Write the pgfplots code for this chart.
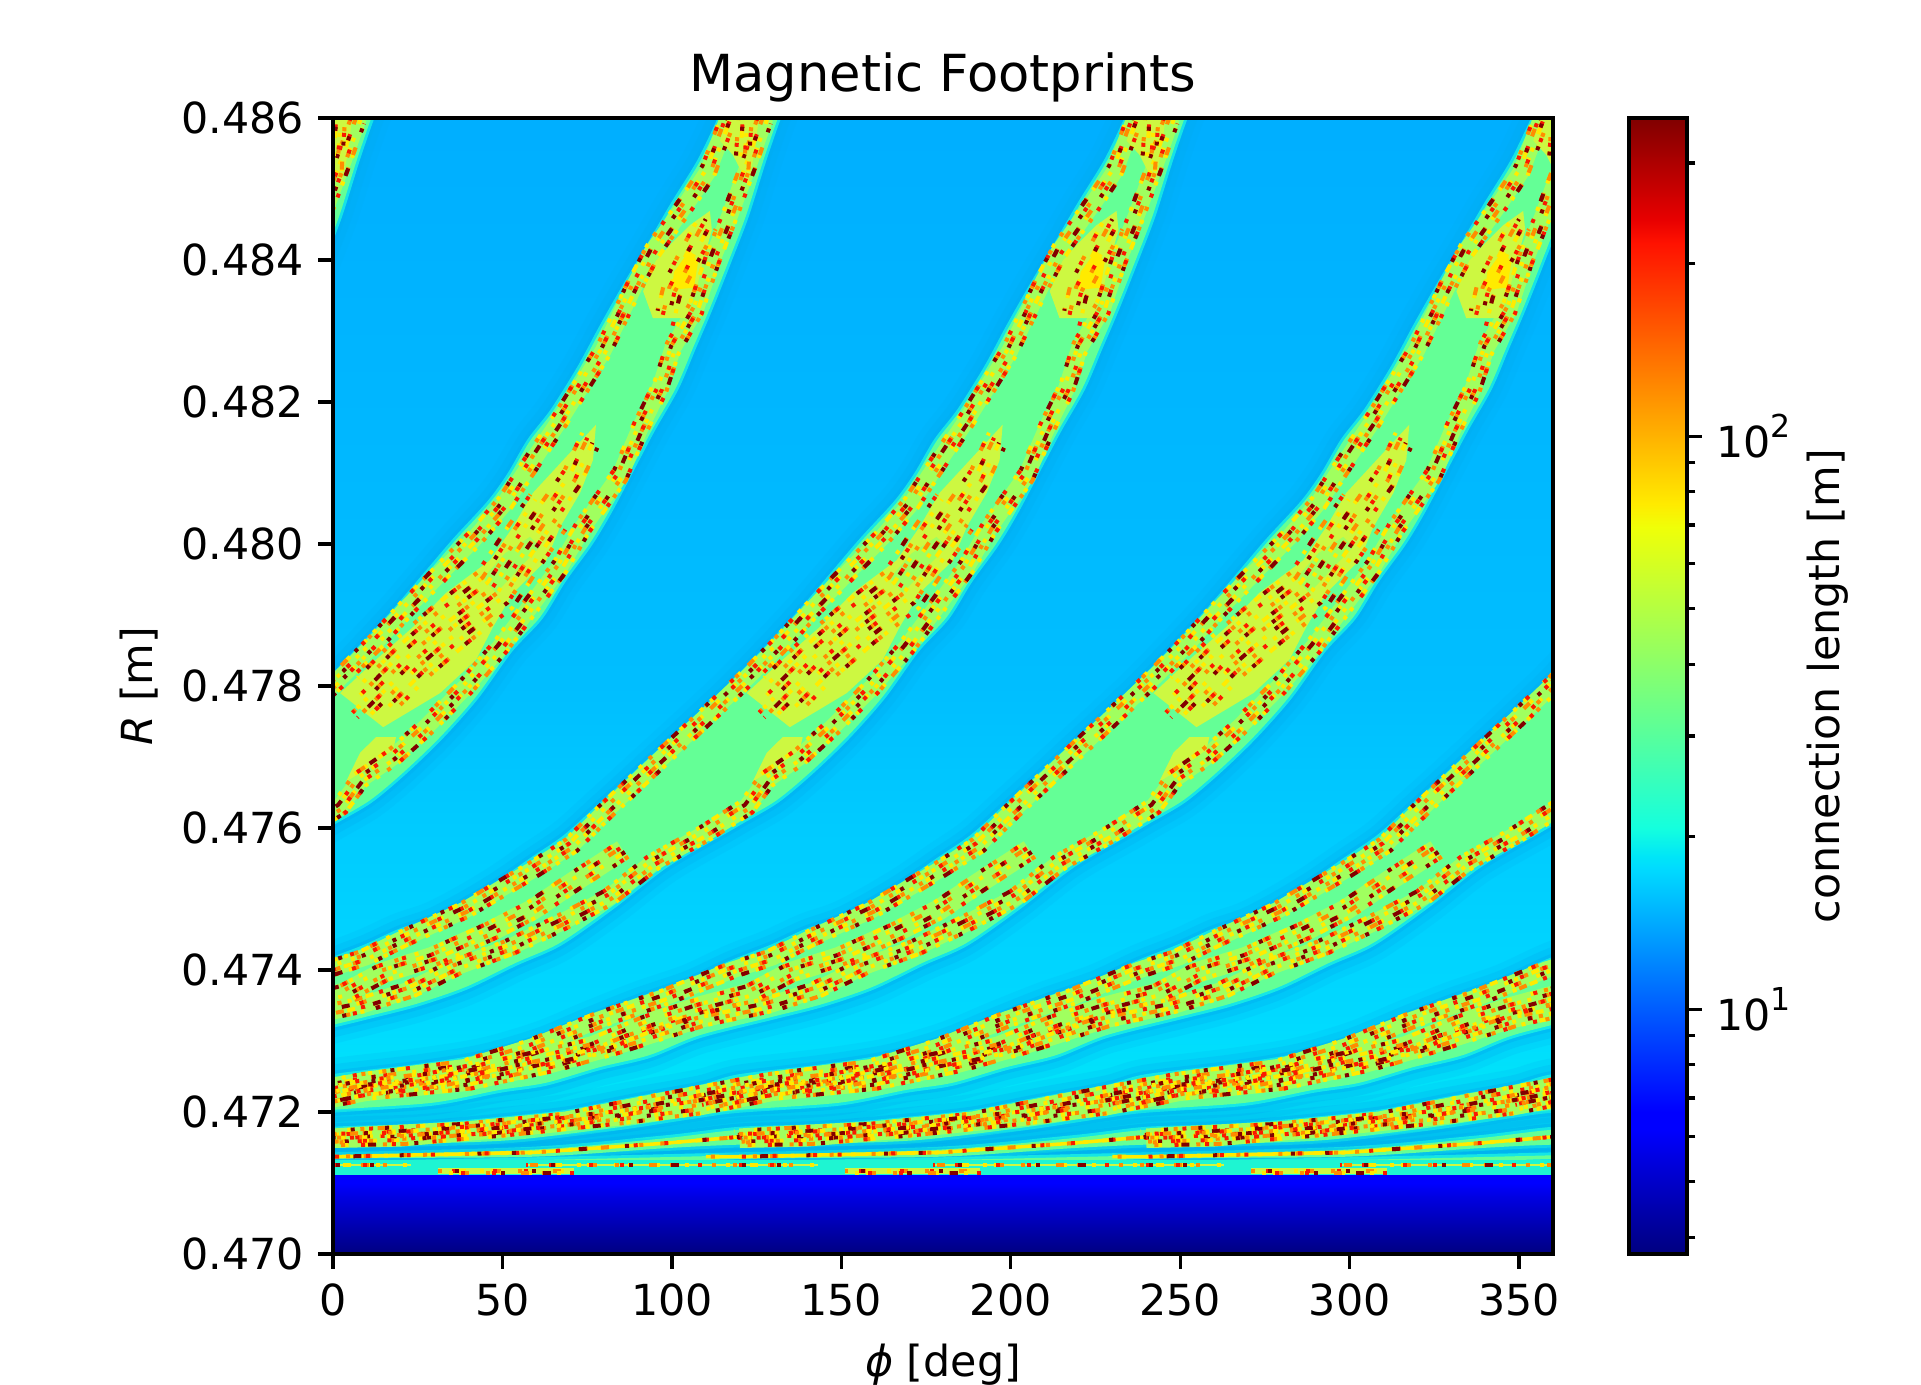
\documentclass[border=0pt]{standalone}
\usepackage{fontspec}
\setmainfont{DejaVu Sans}
\usepackage{pgfplots}
\usepackage{pgfplotstable}
\pgfplotsset{compat=1.18}
\definecolor{cG}{RGB}{100,255,150}
\definecolor{cS}{RGB}{160,255,95}
\definecolor{cF}{RGB}{205,248,65}
\definecolor{cT}{RGB}{30,245,210}
\definecolor{cH}{RGB}{30,250,225}
\definecolor{cY}{RGB}{255,235,0}
\definecolor{cO}{RGB}{255,140,0}
\definecolor{cR}{RGB}{250,25,0}
\definecolor{cD}{RGB}{130,0,0}
\pgfplotsset{colormap={mpljet}{rgb(0pt)=(0,0,.5) rgb(110pt)=(0,0,1) rgb(125pt)=(0,0,1) rgb(340pt)=(0,.86,1) rgb(350pt)=(0,.9,.97) rgb(375pt)=(.08,1,.87) rgb(640pt)=(.94,1,.03) rgb(660pt)=(1,.92,0) rgb(890pt)=(1,.07,0) rgb(910pt)=(.91,0,0) rgb(1000pt)=(.5,0,0)}}
% background rows: phi, R, log10(connection length)
\pgfplotstableread{
p R c
0 .47110 1.27
360 .47110 1.27
0 .4725 1.26
360 .4725 1.26
0 .4735 1.24
360 .4735 1.24
0 .4760 1.215
360 .4760 1.215
0 .4780 1.19
360 .4780 1.19
0 .4860 1.16
360 .4860 1.16
}\tBg
\pgfplotstableread{
p R c
0 .4700 .575
360 .4700 .575
0 .4704 .655
360 .4704 .655
0 .4708 .74
360 .4708 .74
0 .47111 .82
360 .47111 .82
}\tBlue
% one footprint band (the map repeats every 120 deg)
\pgfplotstableread{
p R
118.6 .48640
114.5 .48600
108.3 .48539
100.3 .48477
93.5 .48421
86.5 .48365
79.7 .48308
72.9 .48248
64.9 .48187
58.1 .48145
52.2 .48097
46.3 .48058
36.3 .48006
28.6 .47963
18.6 .47907
9.7 .47861
0 .47813
-7.1 .47780
-31.6 .47672
-41.3 .47630
-51.3 .47587
-61.1 .47555
-70.8 .47523
-80.9 .47494
-90.6 .47470
-100.3 .47454
-110.4 .47432
-122.2 .47410
-134.9 .47382
-149.6 .47358
-164.4 .47330
-179.1 .47301
-195.9 .47278
-215.7 .47263
-240.2 .47249
-251.7 .47234
-271.5 .47217
-291.2 .47199
-310.7 .47189
-335.5 .47179
-360 .47175
-382 .47163
-421 .47147
-480 .47139
-541 .47132
-600 .47125
-600 .47111
-541 .47121
-480 .47134
-421 .47137
-382 .47149
-360 .47154
-330.5 .47156
-306 .47161
-276.5 .47178
-251.7 .47196
-240.2 .47203
-210.7 .47213
-190.9 .47231
-177.3 .47241
-161.4 .47263
-146.7 .47280
-131.9 .47308
-110.4 .47334
-95.6 .47352
-80.9 .47376
-66.1 .47410
-53.1 .47438
-37.5 .47490
-21.8 .47548
-4.1 .47597
0.9 .47611
10.9 .47639
20.7 .47678
31.6 .47728
42.2 .47785
52.2 .47851
61.1 .47897
67.9 .47949
75.8 .48001
81.7 .48048
89.4 .48118
94.4 .48163
101.2 .48220
106.2 .48276
111.2 .48332
117.1 .48403
121.9 .48463
126.9 .48539
131.3 .48600
134.9 .48640
}\tBand
\pgfplotstableread{
p R
116.6 .48600
110.7 .48525
104.8 .48483
94.4 .48413
89.1 .48365
79.7 .48272
67.3 .48177
57.5 .48107
50.8 .48058
42.2 .48010
30.7 .47954
21.2 .47907
12.4 .47861
3.5 .47818
-9.7 .47758
-27.4 .47679
-41.3 .47616
-49.6 .47576
-61.1 .47541
-80.9 .47485
-100.3 .47442
-110.4 .47418
-122.2 .47400
-141.9 .47362
-161.4 .47330
-181.2 .47292
-201 .47263
-230.5 .47245
-261.7 .47217
-291.2 .47189
-320.8 .47175
-350.3 .47168
-360 .47165
}\tSu
\pgfplotstableread{
p R
127.5 .48600
123 .48539
117.1 .48463
112.1 .48403
107.1 .48332
100.3 .48276
96.5 .48220
90.6 .48163
84.7 .48097
73.8 .48024
67 .47968
58.1 .47911
49.3 .47855
39.2 .47799
27.4 .47742
17.7 .47700
8 .47668
2.1 .47630
-10 .47593
-25.7 .47551
-38.4 .47503
-53.1 .47466
-67.9 .47432
-83.8 .47404
-97.4 .47372
-111.2 .47351
-131.9 .47330
-156.7 .47292
-176.2 .47266
-201 .47241
-230.5 .47227
-251.7 .47207
-276.5 .47192
-310.7 .47175
-340.2 .47163
-360 .47161
}\tSl
\pgfplotstableread{
p R
-360 .47165
-382 .47156
-421 .47143
-480 .47137
-490 .47137
}\tSlow
\pgfplotstableread{
p R
57 .47125
100 .47125
143 .47125
}\tSe
\pgfplotstableread{
p R
31 .47117
50 .47117
71 .47117
}\tSd
\pgfplotstableread{
p R
111.2 .48469
105.3 .48449
99.4 .48421
95.3 .48399
91.5 .48356
94.4 .48318
104.2 .48318
107.1 .48356
109.2 .48399
111.8 .48442
}\tFA
\pgfplotstableread{
p R
105.3 .48414
100.6 .48383
100 .48358
106.5 .48361
107.7 .48397
}\tFAc
\pgfplotstableread{
p R
110.7 .48454
105.3 .48407
100 .48358
98 .48318
}\tFAs
\pgfplotstableread{
p R
77.6 .48168
67.9 .48118
59 .48072
53.1 .48024
46.3 .47977
33.3 .47931
23.6 .47883
12.7 .47837
2.1 .47790
14.8 .47742
31.6 .47790
42.2 .47837
47.2 .47883
53.1 .47931
62.9 .47977
67 .48024
72.9 .48072
76.7 .48118
}\tFB
\pgfplotstableread{
p R
58.1 .48010
50.8 .47987
44.3 .47952
48.1 .47931
55.8 .47970
61.1 .47996
}\tFBc
\pgfplotstableread{
p R
75.8 .48146
70.5 .48093
63.4 .48045
56.7 .47999
47.8 .47935
34.5 .47886
22.7 .47837
12.4 .47787
6.5 .47759
}\tFBs
\pgfplotstableread{
p R
63.4 .48045
56.7 .47999
47.8 .47935
34.5 .47886
22.7 .47837
12.4 .47787
}\tFBo
\pgfplotstableread{
p R
8 .47706
12.7 .47728
18.6 .47728
17.7 .47710
11.8 .47689
3.8 .47665
}\tFE
\pgfplotstableread{
p R
118.6 .48639
114.2 .48568
118 .48548
122.5 .48506
124.5 .48554
126.6 .48639
}\tFT
\pgfplotstableread{
p R
122.2 .48632
121.6 .48600
120.7 .48534
}\tFTs
\pgfplotstableread{
p R
-34.5 .47569
-49.3 .47523
-61.1 .47485
-72.9 .47456
-90.6 .47418
-105.3 .47396
-116.3 .47368
-131.9 .47348
-146.7 .47325
-163.5 .47292
-176.2 .47278
-190.9 .47263
-210.7 .47245
-230.5 .47235
-251.7 .47213
}\tD
% colour bar rows
\pgfplotstableread{
p R c
0 3.74 .5726
1 3.74 .5726
0 6.18 .7907
1 6.18 .7907
0 6.61 .8205
1 6.61 .8205
0 17.65 1.2468
1 17.65 1.2468
0 20.71 1.3162
1 20.71 1.3162
0 36.65 1.5641
1 36.65 1.5641
0 69.4 1.8417
1 69.4 1.8417
0 76.1 1.8814
1 76.1 1.8814
0 217.5 2.3375
1 217.5 2.3375
0 238.3 2.3771
1 238.3 2.3771
0 359.4 2.5556
1 359.4 2.5556
}\tBar
% table, phi shift, perpendicular offset (bp), dash phase (bp)
\newcommand\Spk[4]{%
 \addplot[no marks,forget plot,draw=cY,line width=.96bp,dash pattern=on .96bp off 2.4bp on .96bp off 4.7bp on 1.92bp off 3.5bp on .96bp off 1.6bp on .96bp off 5.5bp,dash phase=#4bp,xshift=#3bp,yshift=-#3bp] table[x expr=\thisrow{p}+#2,y=R]{#1};
 \addplot[no marks,forget plot,draw=cO,line width=.96bp,dash pattern=on .96bp off 7.3bp on 1.92bp off 3.2bp on .96bp off 9.1bp on .96bp off 4.1bp,dash phase=#4bp+5bp,xshift=#3bp,yshift=-#3bp] table[x expr=\thisrow{p}+#2,y=R]{#1};
 \addplot[no marks,forget plot,draw=cR,line width=.96bp,dash pattern=on .96bp off 11.9bp on .96bp off 4.9bp on .96bp off 8.8bp on .96bp off 6.4bp,dash phase=#4bp+11bp,xshift=#3bp,yshift=-#3bp] table[x expr=\thisrow{p}+#2,y=R]{#1};
 \addplot[no marks,forget plot,draw=cD,line width=.96bp,dash pattern=on 1.92bp off 15.1bp on .96bp off 7.3bp on .96bp off 17.7bp on .96bp off 9.2bp,dash phase=#4bp+17bp,xshift=#3bp,yshift=-#3bp] table[x expr=\thisrow{p}+#2,y=R]{#1};
}
\newcommand\Fill[3]{\addplot[no marks,forget plot,fill=#3,draw=none] table[x expr=\thisrow{p}+#2,y=R]{#1} -- cycle;}
\newcommand\Line[4]{\addplot[no marks,forget plot,draw=#3,line width=#4] table[x expr=\thisrow{p}+#2,y=R]{#1};}
\begin{document}
\begin{tikzpicture}
\path[use as bounding box] (0,0) rectangle (6.4in,4.6142in);
\begin{axis}[
  at={(1.1094in,.4364in)},anchor=south west,scale only axis,
  width=4.0645in,height=3.7847in,
  xmin=0,xmax=360,ymin=.470,ymax=.486,
  colormap name=mpljet,point meta min=.5726,point meta max=2.5556,
  axis on top,
  axis line style={line width=.8bp},
  tick style={black,line width=.8bp},major tick length=3.5bp,
  tick align=outside,xtick pos=bottom,ytick pos=left,
  xtick={0,50,...,350},
  ytick={.470,.472,.474,.476,.478,.480,.482,.484,.486},
  scaled y ticks=false,
  tick label style={font=\fontsize{10.3}{12}\selectfont},
  xticklabel style={/pgf/number format/assume math mode=true},
  yticklabel style={/pgf/number format/.cd,fixed,fixed zerofill,precision=3,assume math mode=true},
  xlabel={\textit{ϕ} [deg]},ylabel={\textit{R} [m]},
  label style={font=\fontsize{10.3}{12}\selectfont},
  ylabel style={yshift=-1.2bp},
  title={Magnetic Footprints},
  title style={font=\fontsize{12.3}{14}\selectfont,yshift=-5.7bp},
]
\addplot[surf,shader=interp,mesh/cols=2,forget plot,point meta=explicit] table[x=p,y=R,meta=c]{\tBg};
% halo
\pgfplotsinvokeforeach{-120,0,120,240,360,480,600,720,840}{
 \addplot[no marks,forget plot,smooth,tension=.5,draw=cyan,opacity=.16,line width=9bp] table[x expr=\thisrow{p}+#1,y=R]{\tBand};
 \addplot[no marks,forget plot,smooth,tension=.5,draw=cyan,opacity=.25,line width=6bp] table[x expr=\thisrow{p}+#1,y=R]{\tBand};
 \addplot[no marks,forget plot,smooth,tension=.5,draw=cyan,opacity=.4,line width=3bp] table[x expr=\thisrow{p}+#1,y=R]{\tBand};
 \addplot[no marks,forget plot,smooth,tension=.5,draw=cH,opacity=.7,line width=1.4bp] table[x expr=\thisrow{p}+#1,y=R]{\tBand};
}
\pgfplotsinvokeforeach{-120,0,120,240,360,480,600,720,840}{
 \addplot[no marks,forget plot,smooth,tension=.5,fill=cG,draw=none] table[x expr=\thisrow{p}+#1,y=R]{\tBand} -- cycle;
}
% bottom row of the map
\addplot[no marks,forget plot,fill=cT,draw=none] coordinates {(0,.47111) (360,.47111) (360,.47133) (0,.47133)} -- cycle;
% strips
\pgfplotsinvokeforeach{-120,0,120,240,360,480,600}{\Line{\tSu}{#1}{cS}{4bp}\Line{\tSl}{#1}{cS}{4bp}}
\pgfplotsinvokeforeach{360,480,600,720}{\Line{\tSlow}{#1}{cY}{.85bp}}
\pgfplotsinvokeforeach{-120,0,120,240}{\Line{\tSe}{#1}{cF}{.6bp}}
\pgfplotsinvokeforeach{0,120,240}{\Line{\tSd}{#1}{cF}{1.6bp}}
\pgfplotsinvokeforeach{120,240,360,480,600}{\Line{\tD}{#1}{cS}{5bp}}
% flames
\pgfplotsinvokeforeach{-120,0,120,240}{
 \Fill{\tFA}{#1}{cF}\Fill{\tFB}{#1}{cF}\Fill{\tFE}{#1}{cF}\Fill{\tFT}{#1}{cF}
 \Fill{\tFAc}{#1}{cY}\Fill{\tFBc}{#1}{cS}
}
% speckles
\pgfplotsinvokeforeach{-120,0,120,240,360,480,600}{
 \Spk{\tSu}{#1}{-.45}{0}\Spk{\tSu}{#1}{.45}{7.3}\Spk{\tSu}{#1}{-1.35}{13.7}\Spk{\tSu}{#1}{1.35}{21.1}
 \Spk{\tSl}{#1}{-.45}{3.1}\Spk{\tSl}{#1}{.45}{9.9}\Spk{\tSl}{#1}{-1.35}{16.3}\Spk{\tSl}{#1}{1.35}{25.7}
}
\pgfplotsinvokeforeach{360,480,600,720}{\Spk{\tSlow}{#1}{0}{.3}}
\pgfplotsinvokeforeach{-120,0,120,240}{\Spk{\tSe}{#1}{0}{2.3}}
\pgfplotsinvokeforeach{0,120,240}{\Spk{\tSd}{#1}{0}{4.3}\Spk{\tSd}{#1}{.4}{12.3}}
\pgfplotsinvokeforeach{120,240,360,480,600}{
 \Spk{\tD}{#1}{-.5}{1.7}\Spk{\tD}{#1}{.5}{8.3}\Spk{\tD}{#1}{-1.5}{15.9}\Spk{\tD}{#1}{1.5}{23.3}
}
\pgfplotsinvokeforeach{-120,0,120,240}{
 \Spk{\tFAs}{#1}{-.6}{.5}\Spk{\tFAs}{#1}{.6}{6.2}\Spk{\tFAs}{#1}{-1.8}{12}\Spk{\tFAs}{#1}{1.8}{19}
 \Spk{\tFBs}{#1}{-.6}{2.1}\Spk{\tFBs}{#1}{.6}{9}\Spk{\tFBs}{#1}{-1.8}{14.7}\Spk{\tFBs}{#1}{1.8}{27}
 \Spk{\tFBo}{#1}{3}{4.4}\Spk{\tFBo}{#1}{-3}{10.6}\Spk{\tFBo}{#1}{4.2}{18.1}\Spk{\tFBo}{#1}{-4.2}{24.2}
 \Spk{\tFTs}{#1}{-.5}{.2}\Spk{\tFTs}{#1}{.5}{5.9}\Spk{\tFTs}{#1}{-1.5}{11.9}\Spk{\tFTs}{#1}{1.5}{17.3}
}
\addplot[surf,shader=interp,mesh/cols=2,forget plot,point meta=explicit] table[x=p,y=R,meta=c]{\tBlue};
\end{axis}
\begin{axis}[
  at={(5.4272in,.4364in)},anchor=south west,scale only axis,
  width=.1932in,height=3.7847in,
  xmin=0,xmax=1,ymode=log,ymin=3.74,ymax=359.4,
  colormap name=mpljet,point meta min=.5726,point meta max=2.5556,
  axis on top,
  axis line style={line width=.8bp},
  xtick=\empty,
  tick style={black,line width=.8bp},major tick length=3.5bp,minor tick length=2bp,
  tick align=outside,ytick pos=right,yticklabel pos=right,
  ytick={10,100},yticklabels={10\raisebox{.48em}{\fontsize{7.6}{8}\selectfont 1},10\raisebox{.48em}{\fontsize{7.6}{8}\selectfont 2}},
  minor ytick={4,5,6,7,8,9,20,30,40,50,60,70,80,90,200,300},
  tick label style={font=\fontsize{10.3}{12}\selectfont},
  ylabel={connection length [m]},
  ylabel style={yshift=2.9bp},
  label style={font=\fontsize{10.3}{12}\selectfont},
]
\addplot[surf,shader=interp,mesh/cols=2,forget plot,point meta=explicit] table[x=p,y=R,meta=c]{\tBar};
\end{axis}
\end{tikzpicture}
\end{document}
